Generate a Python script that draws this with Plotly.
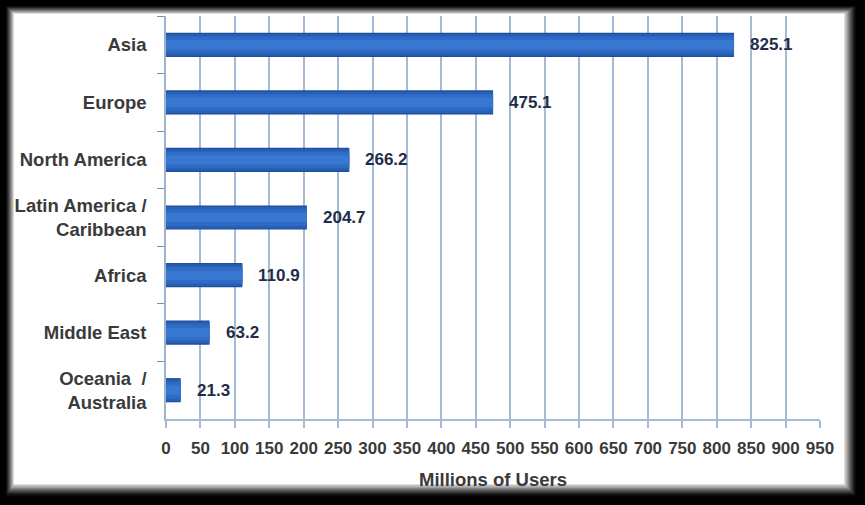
import plotly.graph_objects as go

regions = ["Asia", "Europe", "North America", "Latin America /<br>Caribbean",
           "Africa", "Middle East", "Oceania  /<br>Australia"]
users = [825.1, 475.1, 266.2, 204.7, 110.9, 63.2, 21.3]
labels = ["825.1", "475.1", "266.2", "204.7", "110.9", "63.2", "21.3"]
x_ticks = list(range(0, 951, 50))
x_title = "Millions of Users"

W, H = 865, 505
ML, MR, MT, MB = 166, 45, 16, 86
PW, PH = W - ML - MR, H - MT - MB

def px(x):
    return (x - ML) / PW

def py(y):
    return 1 - (y - MT) / PH

fig = go.Figure()

bar_layers = [(0.42, "#1f4f9e"), (0.37, "#2860b6"), (0.28, "#2f6cc6"), (0.16, "#3877d2")]
for w, c in bar_layers:
    fig.add_trace(go.Bar(
        x=users, y=regions, orientation="h", width=w,
        marker=dict(color=c, line=dict(width=0)),
        hoverinfo="skip", showlegend=False,
    ))

for r, v, t in zip(regions, users, labels):
    fig.add_annotation(
        x=v, y=r, text=t, showarrow=False, xanchor="left", yanchor="middle",
        xshift=14,
        font=dict(family="Liberation Sans, Arial", size=17, color="#1f2d48", weight="bold"),
    )

# frame: black border with soft edge into white panel
shapes = []
n = 10
for i in range(n + 1):
    t = i / n
    x0 = 5 + 9 * t
    y0 = 5 + 9 * t
    x1 = 857 - 13 * t
    y1 = 497 - 13 * t
    g = int(255 * (t ** 1.3))
    shapes.append(dict(
        type="rect", xref="paper", yref="paper", layer="below",
        x0=px(x0), x1=px(x1), y0=py(y1), y1=py(y0),
        fillcolor=f"rgb({g},{g},{g})", line=dict(width=0),
    ))

fig.update_layout(
    width=W, height=H,
    margin=dict(l=ML, r=MR, t=MT, b=MB),
    paper_bgcolor="#000000",
    plot_bgcolor="#dde7f3",
    barmode="overlay",
    shapes=shapes,
    font=dict(family="Liberation Sans, Arial", size=17, color="#3a3a3a"),
    xaxis=dict(
        range=[0, 950], tickvals=x_ticks, ticktext=[str(v) for v in x_ticks],
        showgrid=True, gridcolor="#a5bad5", gridwidth=1.5,
        showline=True, linecolor="#a5bad5", linewidth=1.5,
        ticks="outside", ticklen=7, tickcolor="#a5bad5", tickwidth=1.5,
        ticklabelstandoff=6,
        tickfont=dict(size=17, color="#3a3a3a", weight="bold"),
        title=dict(text=x_title, font=dict(size=18.5, color="#3a3a3a", weight="bold"), standoff=16),
        zeroline=False, fixedrange=True,
    ),
    yaxis=dict(
        type="category", categoryorder="array", categoryarray=regions,
        autorange="reversed",
        showgrid=False, showline=True, linecolor="#9fb3cc", linewidth=1.5,
        ticks="outside", ticklen=7, tickcolor="#8c8c8c", tickson="boundaries",
        ticklabelstandoff=14,
        tickfont=dict(size=18.5, color="#3a3a3a", weight="bold"),
        zeroline=False, fixedrange=True,
    ),
)

fig.write_html("out.html")
